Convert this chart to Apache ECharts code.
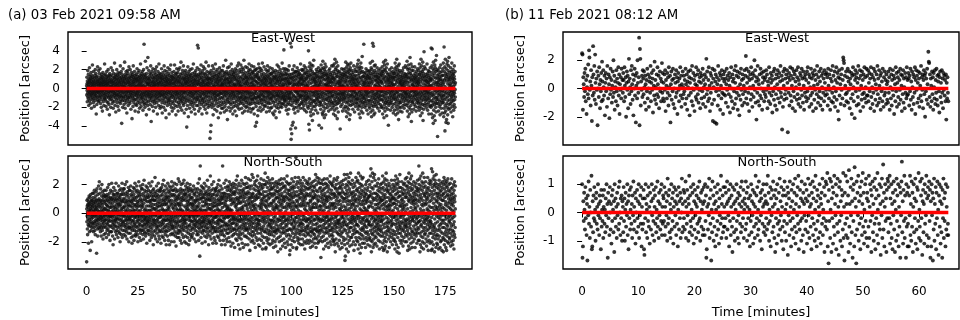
<!DOCTYPE html>
<html>
<head>
<meta charset="utf-8">
<script src="https://cdn.jsdelivr.net/npm/echarts@6/dist/echarts.min.js"></script>
<style>
html,body{margin:0;padding:0;background:#fff}
#chart{width:960px;height:320px}
</style>
</head>
<body>
<div id="chart"></div>
<script>
// Guiding offsets, in units of 0.1 arcsec, one value per sample at a fixed cadence.
// Session (a): 03 Feb 2021, 180 minutes.
const ewA = [
3,-7,12,5,-2,-14,8,1,-5,19,-9,0,6,-11,15,4,-3,-18,10,2,-6,7,-1,22,-13,9,-4,-8,13,6,-16,3,11,-2,-10,17,1,-6,8,-21,5,14,-3,-7,10,-12,2,25,-5,6,
-9,12,-1,4,-15,8,18,-4,-11,3,7,-2,-19,11,-6,1,14,-8,5,-13,20,-3,9,-7,-1,16,-10,6,-27,4,12,-5,2,-17,8,-3,13,-9,0,23,-12,7,-4,10,-2,-14,5,19,-8,3,
-5,9,-13,4,16,-2,7,-10,1,21,-7,11,-4,-16,6,-1,13,-9,3,-20,10,5,-3,15,-12,8,-6,2,-24,12,-2,6,17,-8,-1,9,-14,4,11,-5,-18,7,2,-10,14,-3,26,-11,5,-7,
8,-1,-12,15,3,-6,10,-19,6,-2,12,-9,1,18,-14,4,-4,9,-22,7,13,-1,-8,5,-15,20,-5,3,11,-10,0,-17,14,-3,8,-28,6,-7,16,2,-12,10,-4,-9,13,1,-20,7,-2,22,
4,-11,9,-3,14,-8,2,-16,7,1,-6,19,-13,5,-1,11,-21,8,-4,3,16,-9,6,-2,-14,12,-7,27,-5,10,1,-18,4,-10,13,-3,7,-25,15,-6,2,9,-12,5,-1,20,-8,11,-15,3,
-7,14,-2,6,-19,10,-4,17,-11,1,8,-6,-23,13,3,-9,5,-1,16,-14,7,-3,11,-8,24,-16,2,9,-5,-12,6,18,-2,-9,12,-37,4,-7,15,-1,10,-13,3,-20,8,-4,21,-10,1,6,
-9,13,-4,7,-17,2,11,-1,-13,28,-6,9,3,-21,15,-8,5,-2,12,-11,1,18,-15,6,-4,10,-7,-26,14,-3,8,0,-12,19,-9,4,-1,16,-18,7,-5,11,-10,2,23,-14,6,-3,9,-8,
12,-2,-16,5,20,-10,3,-6,14,-1,-22,8,-4,11,1,-13,17,-7,4,-32,13,-2,6,-9,15,-5,9,-19,2,24,-11,7,-3,12,-15,5,-1,10,-8,18,-12,3,-6,14,-24,8,1,-4,11,-17,
6,-12,2,15,-7,10,-1,-18,9,-4,21,-10,3,-6,13,-15,7,-2,17,-9,4,-25,11,-3,8,-13,1,19,-6,12,-21,5,-1,9,-16,14,-8,2,26,-11,6,-4,10,-19,3,16,-7,13,-2,-10,
7,-14,1,18,-5,11,-9,4,-23,14,-1,8,-12,20,-6,3,-15,47,-17,10,-4,15,-8,1,-20,12,-3,6,29,-11,2,-7,13,-16,9,-1,-28,16,-5,7,-13,22,-2,4,-9,11,-18,5,33,-6,
-3,10,-14,6,-8,19,-1,4,-22,13,-6,9,2,-11,16,-4,7,-17,11,-2,-9,24,-13,5,1,-35,15,-7,3,-10,18,-5,8,-1,-19,12,-3,6,-14,21,-8,2,10,-24,7,-2,14,-12,4,-6,
11,-16,3,17,-9,5,-1,-13,20,-4,8,-20,12,-7,2,15,-10,6,-3,23,-15,9,-1,-6,13,-27,4,10,-11,1,18,-8,5,-2,14,-18,7,-5,26,-13,3,11,-4,-9,16,-1,6,-21,12,-7,
8,-5,15,-12,3,-19,10,-2,6,21,-8,-1,13,-15,4,-26,11,-6,9,-3,17,-11,2,-7,14,-1,-20,7,5,-13,24,-4,10,-9,1,-16,19,-6,3,12,-23,8,-2,15,-10,4,-31,11,-5,7,
-14,2,18,-8,6,-3,13,-18,9,-1,-11,22,-6,4,10,-15,1,16,-12,7,-4,-27,14,-2,5,-9,20,-13,3,11,-5,-17,8,-1,25,-10,6,-7,13,-20,2,9,-3,17,-14,5,-24,12,-8,1,
-6,14,-2,9,-16,5,11,-10,1,-21,18,-4,7,-13,3,25,-8,12,-1,-18,6,-5,15,-11,2,10,-28,8,-3,16,-7,4,-14,21,-2,9,-19,13,-6,1,-10,17,-4,6,-24,11,-1,7,-15,20,
-9,3,13,-5,-17,8,2,-12,22,-7,10,-1,-20,15,-3,5,-11,28,-14,6,-2,12,-8,1,-23,16,-5,9,-13,3,19,-10,4,-1,-16,11,-6,24,-18,7,-3,14,-9,2,-26,10,-4,17,-12,5,
11,-4,-15,8,1,19,-10,5,-2,14,-22,7,-7,12,-41,3,-13,16,-1,9,-18,6,-5,23,-11,2,10,-30,13,-3,7,-8,18,-14,4,-1,11,-21,15,-6,3,-12,20,-4,8,-17,1,14,-9,6,
-2,-25,12,-5,9,-15,4,21,-8,1,-13,16,-3,7,-19,11,-6,2,26,-10,5,-1,-16,13,-7,9,-22,3,17,-11,6,-4,14,-27,8,-2,10,-14,19,-5,1,-9,15,-18,4,-3,12,-12,7,22,
-10,5,46,-7,13,-2,-18,9,43,-12,4,-24,15,-5,8,-1,20,-15,6,-9,11,-3,-21,14,2,-8,17,-13,5,-1,25,-6,10,-17,3,12,-10,1,-27,16,-4,7,-12,19,-2,6,-15,9,-6,23,
-11,4,13,-19,2,8,-5,16,-14,1,-8,21,-3,11,-22,6,-1,15,-10,4,-17,28,-6,9,-2,-13,12,-26,3,18,-8,5,-4,10,-16,14,-1,7,-20,2,11,-9,24,-5,6,-12,17,-3,-18,9,
3,-14,11,-53,-2,16,-8,5,-46,10,-5,-39,19,-11,1,-17,8,-3,14,-20,6,-1,12,-9,24,-15,2,-6,17,-28,9,-2,4,-12,21,-5,11,-18,1,13,-7,3,-22,15,-4,7,-10,26,-1,-13,
6,-9,18,-3,10,-16,2,14,-6,-24,9,-1,20,-12,4,-7,12,-19,7,-2,15,-31,5,11,-8,1,-15,17,-4,8,-11,22,-6,2,-18,13,-1,9,-26,16,-5,3,-10,19,-3,6,-14,10,-21,4,
-5,12,-17,3,19,-9,6,-1,-21,14,4,-11,24,-6,1,-15,9,-3,17,-25,8,-2,13,-8,5,-19,16,-4,10,-13,2,30,-7,6,-16,11,-1,-23,18,-5,3,-10,15,-2,9,-33,22,-12,1,7,
10,-4,-14,16,-7,5,-20,12,-1,23,-10,6,-15,2,14,-5,8,-24,18,-8,3,-2,11,-17,7,-12,26,-1,15,-6,-21,10,1,-9,20,-4,5,-15,13,-27,8,-3,17,-11,2,-6,15,-19,4,12,
-8,18,-3,10,-15,5,-24,1,13,-9,21,-6,3,-18,9,-1,16,-12,4,-29,11,-2,19,-14,7,-4,24,-9,1,-20,14,-7,9,-2,-17,6,27,-11,4,-5,12,-22,17,-3,8,-13,2,20,-10,5,
3,-16,11,-5,25,-9,1,-14,18,-3,7,-21,13,-8,2,-11,22,-1,-26,10,-6,16,-16,4,-1,20,-12,9,-4,30,-18,6,-9,14,-2,-24,11,1,-13,17,-7,5,-10,23,-4,12,-20,3,-15,8,
-10,14,-3,7,-19,11,-1,22,-13,5,-6,17,-24,9,-2,12,-16,3,-9,19,-5,26,-11,1,15,-21,6,-4,10,-17,20,-8,2,-14,13,-1,-25,16,-7,5,-11,24,-4,11,-16,2,8,-22,18,-12,
6,-11,17,-5,11,-21,3,-8,15,-1,23,-14,9,-27,4,-6,19,-10,1,-16,13,-3,-40,8,-10,20,-2,12,-19,7,-5,15,-36,3,-12,21,-1,-15,6,-9,14,-29,17,-7,12,-23,1,10,-9,26,
5,-16,10,-4,22,-9,1,-13,18,-2,7,-20,12,-7,3,-11,21,-1,-24,9,-6,15,-15,4,-1,19,-12,8,-4,27,-17,6,-8,13,-2,-22,10,1,-12,16,-6,5,-9,23,-3,11,-19,3,-14,8,
-9,13,-2,6,-18,10,-1,20,-12,4,-5,15,-25,8,-2,11,-15,3,-8,18,-4,24,-10,1,13,-20,6,-3,9,-16,19,-7,1,-13,12,-1,-24,15,-6,5,-10,22,-4,10,-16,2,7,-21,16,-11,
6,-10,16,-4,10,-20,3,-7,14,-1,21,-13,8,-26,4,-6,18,-9,1,-15,12,-2,-28,9,-8,17,-1,11,-18,6,-4,13,-24,2,-11,19,-1,-14,5,-8,12,-31,15,-5,10,-20,1,8,-7,25,
-12,8,-3,18,-17,5,-8,13,-1,-21,10,-6,23,-10,2,-15,16,-3,7,-25,12,-8,4,-13,20,-1,9,-19,14,-5,1,-10,17,-16,6,-2,12,-20,9,-7,27,-11,3,-4,15,-16,10,-9,4,21,
2,-8,14,-17,41,-5,9,-13,6,-11,18,-1,-12,11,-7,21,-14,4,-9,15,-19,8,-3,11,-23,16,-5,1,-12,20,-8,5,-17,10,-2,14,-27,7,-10,2,19,-15,8,-6,-22,12,-4,24,-10,5,
-7,15,-11,5,-17,10,-2,48,-13,6,-43,12,-4,-54,-9,44,15,-5,-48,11,-18,2,-39,8,-11,20,-1,-15,5,-36,16,-7,12,-22,2,9,-8,24,-13,4,-20,13,-3,17,-26,6,-10,18,-1,-42,
-13,9,-3,18,-16,4,-9,14,-2,-20,11,-5,22,-12,3,-14,17,-4,6,-24,13,-7,5,-12,19,-2,8,-18,15,-6,2,-9,16,-17,7,-1,11,-21,10,-8,26,-10,4,-3,14,-15,11,-8,5,20,
11,-6,-16,9,-2,19,-12,5,-21,14,-1,8,-14,20,-8,3,-18,12,-4,24,-10,7,-3,16,-23,9,-7,1,17,-13,4,-11,22,-1,-16,11,-5,10,-25,15,-8,3,-12,19,-3,6,-19,13,-9,1,
3,-10,17,-21,40,-6,12,-38,8,-15,23,-2,-44,14,-9,27,-18,5,-12,19,-25,10,-4,15,-29,21,-7,1,-16,25,-11,6,-22,13,-3,18,-34,9,-14,2,24,-19,11,-8,-27,16,-5,30,-13,7,
-4,9,-13,2,15,-7,10,-19,4,-1,12,-15,7,-23,16,-3,5,-9,20,-11,1,-17,13,-6,8,-2,18,-12,3,-26,11,-5,14,-8,1,22,-14,6,-10,3,-39,17,-2,9,-18,12,-6,4,-15,19,
-9,19,-14,6,-22,12,-3,25,-17,8,-42,15,-6,21,-11,2,-26,17,-8,11,-28,29,-4,13,-19,5,-13,22,-1,-24,16,-10,9,-31,20,-5,14,-16,3,26,-21,10,-7,18,-28,4,-12,23,-2,15,
5,-11,14,-2,8,-17,3,12,-6,-20,10,1,-9,16,-13,4,-4,11,-24,7,19,-1,-10,6,-15,13,-3,21,-8,2,-18,9,-5,15,-12,1,7,-22,17,-4,10,-14,3,24,-9,6,-1,-16,12,-7,
14,-8,-20,11,-3,24,-15,7,-27,18,-1,10,-18,26,-11,4,-23,16,-6,31,-13,9,-4,20,-29,12,-9,2,22,-17,6,-14,28,-2,-21,15,-7,13,-32,19,-10,5,-16,24,-5,8,-25,17,-12,1,
-6,12,-1,7,-15,3,18,-10,5,-2,-13,9,-43,14,-7,2,11,-19,6,-4,16,-9,1,-12,21,-5,8,-17,3,13,-1,-24,10,-6,15,-11,4,20,-14,2,-8,12,-3,-21,17,-6,7,-10,1,14,
-4,21,-12,9,-19,15,-1,28,-24,6,-9,18,-15,11,-30,3,23,-7,13,-20,8,-3,26,-14,17,-26,4,-11,20,-6,12,-22,1,-17,25,-9,16,-33,7,-2,19,-13,10,-28,22,-8,14,-18,5,27,
8,-3,-14,12,-7,3,19,-11,1,-6,15,-17,9,-2,11,-22,5,-9,17,-1,7,-13,24,-4,10,-16,2,13,-8,-25,6,-3,20,-10,4,-1,14,-19,9,-5,18,-12,1,-15,11,-7,3,23,-11,6,
9,-16,18,-5,26,-11,3,-22,14,-8,30,-19,7,-2,21,-13,11,-27,16,-4,5,-18,23,-10,1,-31,19,-7,12,-15,27,-3,8,-24,17,-12,-6,22,-20,10,-1,34,-14,4,-9,18,-26,13,-17,6,
-7,13,2,-10,47,-4,8,-15,16,-1,-11,6,-20,12,3,-8,17,-14,5,-3,10,-18,21,-6,1,-12,14,-2,8,-23,11,-5,19,-9,2,-16,13,-1,6,-27,15,-7,4,-13,18,-4,10,-19,1,12,
-13,6,19,-21,11,-4,27,-16,2,-9,16,-25,8,-1,22,-12,14,-30,5,-7,20,-18,10,-3,29,-14,48,-23,7,-10,17,-5,45,-19,12,-2,-28,15,-8,24,-15,3,-11,19,-26,9,-6,25,-17,13,
4,-12,9,-1,17,-8,2,-19,13,-5,7,-14,22,-3,10,-10,1,15,-21,6,-6,12,-2,-16,19,-9,3,11,-13,5,-24,8,-1,16,-11,2,-7,21,-17,9,-4,13,-8,1,-20,15,-3,7,-12,18,
7,-19,14,-3,23,-12,5,-27,18,-8,11,-1,-21,16,-14,28,-6,10,-31,20,-9,2,-17,25,-4,13,-24,8,-11,19,-2,30,-15,6,-20,12,-7,22,-13,3,-29,17,-5,9,-16,26,-10,1,-22,15,
-3,10,-14,6,-39,12,-1,8,-18,4,15,-9,2,-12,20,-5,9,-16,1,13,-7,-23,11,-2,6,-15,17,-4,3,-10,22,-13,7,-1,14,-20,5,-8,11,-3,18,-17,2,9,-26,12,-6,4,-11,16,
-10,16,-2,-23,12,-7,21,-16,4,27,-12,9,-5,18,-28,13,-1,-19,23,-9,6,-14,31,-4,15,-22,8,-11,20,-3,-26,11,2,-17,24,-8,14,-33,17,-6,10,-13,26,-20,5,-1,19,-15,7,-24,
6,-9,13,-2,-15,8,3,-20,11,-6,17,-1,9,-12,4,-25,14,-7,2,19,-10,5,-3,12,-18,7,-1,22,-14,3,10,-8,-21,16,-4,6,-11,1,13,-17,8,-5,24,-2,-9,15,-13,4,-6,11,
13,-5,22,-18,8,-11,29,-2,-24,15,-8,6,-16,20,-1,-30,11,-13,25,-6,3,-20,17,-9,12,-27,21,-4,7,-14,33,-10,1,-22,16,-7,10,-18,26,-3,14,-35,9,-12,19,-25,4,-2,23,-15,
-8,4,12,-14,7,-1,19,-10,3,-22,9,-5,14,-3,-17,11,1,-8,23,-12,6,-4,16,-19,2,10,-7,-1,13,-24,8,-2,18,-11,5,-15,12,-6,1,21,-9,7,-13,3,-20,15,-4,9,-16,6,
-6,19,-14,10,-23,4,26,-11,15,-1,-19,22,-8,12,-29,7,-4,17,-16,31,-10,2,-21,14,-6,24,-13,9,-26,18,-3,11,-17,28,-8,5,-34,20,-12,1,16,-22,13,-5,39,-18,8,-10,23,-2,
12,-7,3,-16,9,-2,21,-13,5,-9,15,-1,-20,8,-5,13,-12,2,26,-17,10,-4,7,-23,16,-8,1,-11,19,-3,6,-15,12,-27,4,-6,18,-10,2,14,-19,9,-1,-13,22,-5,8,-18,3,11,
10,-20,43,-8,17,-27,3,-13,24,-4,42,-18,9,-31,14,-7,21,-15,5,-37,28,-11,1,-23,19,-6,12,-29,16,-2,-17,25,-9,7,-34,22,-14,4,30,-20,11,-3,-25,18,-10,35,-16,6,-12,20,
-5,14,-9,2,-51,11,-16,6,-2,19,-12,8,-24,4,15,-7,1,-19,12,-3,22,-14,9,-6,-28,17,-1,10,-17,5,25,-10,3,-21,13,-8,1,-13,18,-4,7,-26,14,-2,9,-15,21,-11,4,-7,
-15,27,-8,14,-30,6,-21,44,-3,18,-26,9,-12,23,-45,2,-18,31,-6,11,-24,16,-10,-36,21,-4,13,-33,8,-16,26,-1,-20,15,-9,29,-28,5,-13,19,-37,10,-5,24,-22,12,-7,33,-17,3,
8,-12,17,-3,10,-21,5,-1,14,-16,22,-7,3,-25,12,-9,18,-4,1,-14,27,-11,6,-19,9,-2,15,-30,11,-6,20,-13,2,-8,16,-23,7,-3,13,-17,24,-5,10,-12,4,-20,18,-1,-9,6
];
const nsA = [
-34,3,-6,9,-2,5,-11,1,-15,6,-4,10,-8,0,4,-21,8,-1,-9,6,12,-5,2,-13,7,-7,1,11,-3,-26,5,-9,3,13,-6,-1,8,-12,2,9,-4,-20,6,-10,4,-2,9,-7,14,-1,
5,-8,11,-3,7,-13,1,14,-6,2,-10,8,-1,16,-7,4,-12,6,-2,10,-15,2,8,-5,12,-9,3,-2,15,-6,5,-28,9,-4,17,-1,-8,4,-11,7,-16,2,13,-5,1,9,-3,19,-10,6,
-4,10,-7,22,1,-11,5,-2,14,-9,8,-1,-13,4,17,-5,9,-3,-16,7,2,-10,12,-4,20,-8,1,-12,6,-2,15,-6,9,-18,4,-3,11,-10,2,13,-7,-15,8,-1,16,-5,3,-9,12,-2,
7,-5,12,-1,-14,9,3,-10,16,-4,6,-17,11,-7,2,13,-12,5,-2,9,-8,18,-1,5,-11,12,-5,2,-15,8,-6,20,-3,10,-9,1,14,-13,4,-2,-19,7,-5,11,-9,16,-2,4,-13,9,
-2,10,-13,5,21,-6,1,-10,15,-3,7,-16,11,-8,2,-22,13,-5,9,-1,18,-11,4,-7,13,-2,5,-18,10,-9,1,16,-5,8,-13,3,-4,12,-9,21,-6,1,-15,10,-3,6,-12,14,-1,4,
9,-4,14,-10,2,-17,7,-1,12,-7,19,-4,-13,6,10,-9,1,16,-14,5,-2,11,-20,8,-5,13,-1,-11,6,17,-8,3,-15,9,-4,13,-9,2,21,-6,-17,8,-2,15,-12,4,-7,10,-1,17,
-6,13,-2,8,-15,4,17,-9,5,-1,-12,10,-5,20,-8,2,-16,14,-3,7,-10,1,12,-13,8,-5,22,-2,-18,5,9,-7,15,-11,3,-4,13,-9,1,18,-14,6,-2,-20,11,-5,8,-10,16,-3,
5,-10,16,-4,9,-14,2,-7,19,-11,5,-2,13,-17,8,-5,1,12,-9,-21,7,-2,15,-12,4,10,-6,-16,9,-1,18,-10,2,-5,13,-19,6,-8,17,-3,11,-12,2,21,-7,5,-15,9,-2,-16,
-9,15,-3,6,-13,11,-1,19,-10,4,-6,16,-15,2,8,-5,12,-20,7,-2,14,-9,5,-12,22,-4,9,-7,1,-17,12,-2,15,-11,5,-8,19,-14,2,10,-5,-19,13,-1,8,-12,17,-3,6,-9,
4,-12,17,-6,9,-2,20,-15,5,-9,12,-1,-18,14,-5,7,-11,23,-8,2,-13,10,-4,16,-3,-14,3,-7,12,-2,-16,9,-5,19,-10,1,15,-8,5,-21,11,-3,8,-14,18,-6,2,-12,13,-5,
-7,11,-2,16,-12,5,-9,21,-4,8,-15,12,-6,2,-19,9,-1,15,-10,5,-3,19,-13,7,-8,2,14,-17,9,-5,12,-11,22,-2,4,-15,10,-7,16,-1,-9,6,-22,12,-4,17,-13,3,-6,9,
9,-5,14,-16,3,-8,25,-2,12,-12,6,-1,-18,15,-7,9,-10,2,19,-5,11,-14,4,-9,13,-2,-20,7,-4,16,-11,5,-6,21,-9,1,12,-16,8,-3,10,-13,5,-18,15,-7,2,-12,17,-2,
-3,16,-9,7,-21,12,-1,5,-13,18,-6,9,-2,-16,13,-8,3,20,-11,6,-5,15,-17,2,10,-7,23,-4,8,-13,1,16,-10,6,-2,-19,12,-5,9,-15,19,-9,2,-5,14,-12,7,-22,11,-1,
6,-13,10,-3,17,-8,2,-16,12,-5,21,-10,4,-1,15,-19,8,-4,11,-12,3,19,-7,9,-22,5,-2,14,-9,16,-5,1,-15,12,-6,18,-11,7,-3,-20,9,-8,22,-1,6,-14,13,-4,-10,16,
-9,4,19,-6,12,-15,3,-2,16,-11,8,-20,13,-5,1,21,-9,6,-13,10,-3,17,-16,5,-7,12,-1,-23,9,-6,15,-10,3,20,-14,7,-2,11,-17,2,-8,16,-4,10,-12,24,-6,6,-14,12,
7,-17,13,-2,22,-9,5,-12,2,15,-6,10,-19,3,-1,17,-13,8,-5,20,-10,6,-21,11,-2,14,-8,2,-15,16,-4,9,-11,21,-6,1,-17,12,-3,10,-9,23,-12,5,-7,16,-1,-20,13,-5,
-5,14,-2,9,-16,19,-10,4,-7,13,-21,2,11,-4,17,-13,6,-1,21,-9,8,-17,3,15,-11,5,-2,18,-14,9,-22,12,-5,2,16,-9,7,-3,-19,13,-8,20,-2,10,-15,6,-12,17,-5,1,
11,-6,-17,7,-1,15,-10,4,-16,11,-1,6,-11,16,-6,2,-14,9,-3,19,-8,5,-2,13,-18,7,-5,1,14,-10,3,-8,17,-1,-12,9,-4,8,-20,12,-6,2,-9,15,-2,5,-15,10,-7,1,
4,-13,17,-6,9,-2,21,-15,5,-10,12,-1,-19,14,-5,7,-11,24,-8,2,-30,10,-4,16,33,-13,3,-7,13,-2,-17,10,-6,19,-10,1,15,-9,5,-21,11,-3,8,-14,18,-6,2,-12,13,-5,
-7,11,-2,17,-12,5,-9,21,-4,8,-16,13,-6,2,-20,10,-1,15,-10,6,-3,19,-13,7,-8,2,14,-17,9,-5,12,-11,23,-2,4,-15,10,-7,16,-1,-10,6,-22,13,-4,18,-13,3,-6,10,
9,-6,14,-16,3,-8,26,-2,12,-12,6,-1,-18,16,-7,9,-10,2,20,-5,11,-14,4,-9,13,-2,-21,7,-4,17,-11,5,-6,22,-10,1,13,-17,8,-3,10,-13,5,-19,15,-7,2,-12,17,-2,
-3,16,-10,7,-21,12,-1,5,-13,18,-6,9,-2,-16,13,-8,3,20,-11,6,-5,15,-17,2,10,-7,23,-4,8,-13,1,16,-10,6,-2,-19,12,-5,9,-15,19,-9,2,-5,14,-12,7,-22,11,-1,
10,-6,17,-13,4,-9,33,-1,12,-15,7,-3,-19,14,-6,10,-11,1,21,-4,12,-16,5,-8,14,-1,-22,8,-3,18,-12,6,-7,23,-9,2,11,-18,9,-2,13,-14,4,-20,16,-8,3,-11,19,-3,
5,-14,11,-2,18,-9,1,-17,13,-6,22,-11,3,-2,16,-20,9,-5,12,-13,2,20,-8,10,-23,6,-1,15,-10,17,-4,2,-16,13,-7,19,-12,8,-2,-21,10,-7,21,-3,7,-15,14,-5,-11,15,
-4,18,-11,8,-24,13,-1,5,-14,20,-7,10,-3,-18,15,-9,4,23,-12,6,-5,17,-19,2,11,-8,26,-4,9,-15,1,19,-11,7,-2,-22,14,-6,10,-17,21,-10,3,-5,16,-13,8,-25,12,-1,
7,-15,11,-4,19,-9,2,-18,14,-6,23,-11,4,-1,16,-21,8,-4,12,-14,3,21,-8,10,-24,5,-2,15,-10,17,-5,1,-16,13,-7,20,-12,8,-3,-22,11,-9,25,-1,6,-16,14,-4,-11,18,
-11,5,21,-7,13,-17,3,-2,18,-12,9,-22,15,-5,1,24,-10,7,-14,11,-4,19,-18,6,-8,14,-1,-26,10,-6,17,-11,4,23,-15,8,-3,12,-20,2,-9,19,-5,11,-13,27,-7,6,-16,13,
8,-19,14,-3,25,-10,5,-13,2,17,-7,11,-21,4,-1,20,-15,9,-5,22,-11,6,-24,12,-2,16,-9,3,-17,19,-4,10,-12,23,-7,1,-19,13,-4,11,-10,26,-14,5,-8,18,-1,-22,15,-5,
-6,16,-2,11,-18,21,-11,5,-8,14,-23,3,13,-5,19,-14,7,-1,24,-10,9,-19,4,17,-12,6,-3,20,-16,10,-25,13,-6,2,18,-11,8,-4,-21,15,-9,23,-2,11,-17,6,-13,20,-5,1,
12,-7,28,-13,5,20,-25,9,-3,-24,15,-11,4,22,-17,8,-1,-19,12,-6,18,-14,2,25,-9,6,-21,13,-4,10,-12,21,-2,-18,16,-8,5,-15,23,-7,11,-22,1,14,-13,19,-5,7,-10,17,
-9,13,-5,21,-15,7,-1,-21,17,-11,5,24,-7,12,-19,3,-13,18,-5,9,-24,14,-3,8,-16,21,-10,2,-13,19,-6,13,-20,4,-2,16,-12,10,-23,6,-8,22,-14,4,11,-18,15,-4,-11,20,
5,-12,18,-6,11,-27,3,15,-9,21,-17,8,-4,13,-11,1,23,-20,10,-5,16,-13,5,-2,20,-16,7,-25,12,-8,2,17,-10,24,-5,9,-19,14,-3,6,-14,21,-7,12,-23,4,-11,18,-1,10,
-13,8,-3,19,-18,11,-6,24,-10,4,-21,15,-2,9,-14,19,-5,1,-24,12,-8,17,-12,5,22,-4,-16,11,-9,3,26,-20,7,-5,14,-12,21,-1,-22,10,-7,16,-15,5,-3,20,-11,13,-18,6,
9,-29,16,-5,-26,12,-11,4,21,-16,7,-2,18,-22,10,-7,14,-12,2,24,-8,12,-19,5,-4,17,-14,8,-24,19,-1,11,-10,22,-6,3,-17,15,-11,7,-20,18,-5,13,-9,1,25,-15,5,-3,
12,-7,39,-13,5,20,-25,9,-3,-24,15,-11,4,22,-17,8,-1,-19,12,-6,18,-14,2,25,-9,6,-21,13,-4,10,-12,21,-2,-18,16,-8,5,-15,23,-7,11,-22,1,14,-13,19,-5,7,-10,17,
-7,15,-12,5,21,-18,9,-2,-22,13,-8,25,-4,11,-15,6,-1,19,-12,8,-20,16,-5,3,-25,12,-10,23,-3,10,-16,5,18,-13,2,-21,14,-6,12,-11,21,-5,7,-19,17,-9,1,-14,22,-4,
-9,13,-4,20,-15,7,-1,-21,17,-11,5,24,-7,12,-19,3,-13,18,-5,9,-24,14,-3,8,-16,21,-10,2,-13,19,-6,12,-20,4,-2,16,-12,10,-23,6,-8,22,-14,4,11,-18,15,-4,-11,19,
11,-5,18,-15,7,-21,13,-1,23,-11,4,-17,27,-8,12,-4,-24,16,-12,6,20,-2,-18,10,-7,25,-13,4,-10,15,-21,8,-3,22,-16,12,-5,-20,9,-12,2,24,-9,17,-4,-14,21,-1,5,-19,
5,-12,18,-6,11,-31,3,15,-9,21,-17,8,-4,13,-11,1,23,-20,10,-5,16,-13,5,-2,20,-16,7,-25,12,-8,2,17,-10,24,-5,9,-19,14,-3,6,-14,21,-7,12,-23,4,-11,18,-1,10,
-13,8,-3,20,-18,11,-6,24,-10,4,-21,15,-2,9,-14,19,-5,1,-24,12,-8,17,-12,5,22,-4,-16,11,-9,3,26,-20,7,-5,14,-12,21,-1,-22,10,-7,16,-15,5,-3,20,-11,13,-18,6,
-10,19,-16,7,-4,22,-13,3,-20,14,-1,11,-19,24,-8,5,-22,13,-6,18,-11,7,-27,12,-3,17,-9,4,-18,20,-2,9,-13,23,-7,1,-21,15,-5,11,-10,25,-14,6,-7,17,-1,-23,13,-5,
8,-15,21,-6,14,-19,3,-8,18,-12,9,-25,14,-4,2,19,-10,6,-16,12,-2,22,-14,4,-21,17,-7,1,-24,11,-9,15,-3,20,-13,8,-1,-17,23,-6,10,-19,5,-11,14,-4,27,-8,2,-22,
10,-33,18,-6,-30,13,-12,4,24,-18,8,-2,20,-25,11,-8,16,-14,2,27,-9,14,-21,6,-4,19,-16,9,-27,22,-1,12,-11,25,-7,3,-19,17,-13,8,-23,21,-5,15,-10,1,28,-17,6,-3,
-6,13,-10,4,20,-17,9,-1,-22,14,-7,23,-4,11,-15,6,-2,18,-12,7,-20,15,-5,2,-26,12,-9,21,-3,9,-14,5,19,-11,3,-22,13,-6,10,-17,25,-4,8,-13,16,-8,1,-19,22,-2,
-8,17,-13,5,23,-20,10,-2,-25,15,-9,28,-4,12,-17,7,-1,21,-14,9,-22,18,-6,3,-28,14,-11,26,-3,11,-18,6,20,-15,2,-24,16,-7,13,-12,24,-5,8,-21,19,-10,1,-16,25,-4,
6,-11,15,-3,9,-18,4,12,-8,-21,11,1,-13,17,-6,3,-9,14,-24,7,20,-2,-14,9,-17,13,-5,22,-10,2,-19,8,-4,16,-13,1,10,-22,18,-6,11,-15,4,23,-8,5,-2,-18,12,-8,
12,-6,20,-17,8,-23,15,-1,26,-12,5,-19,31,-9,13,-4,-27,18,-14,7,22,-2,-20,11,-8,28,-15,4,-11,17,-24,9,-3,25,-18,14,-6,-22,10,-13,2,27,-10,19,-5,-16,23,-1,6,-21,
-4,14,-9,3,-17,11,1,-12,19,-7,9,-23,13,-2,6,-14,21,-5,-10,16,-8,4,-19,12,-3,24,-11,7,-15,18,-1,-25,10,-6,15,-12,3,-20,8,-9,20,-4,11,-16,5,-2,17,-13,9,-6,
-11,21,-5,14,-24,9,-2,26,-16,6,-21,18,-8,12,-26,3,-14,22,-4,10,-19,16,-10,7,-25,24,-1,13,-17,5,-23,20,-7,11,-13,2,28,-20,8,-3,17,-15,23,-9,4,-27,15,-6,19,-12,
5,-10,16,-4,11,-18,2,-7,21,-13,6,-24,14,-1,9,-16,3,19,-11,5,-6,13,-20,8,-2,17,-14,10,-9,23,-5,1,-17,12,-8,6,-22,15,-3,10,-12,20,-7,2,-15,11,-1,18,-19,7,
7,-18,16,-3,23,-13,10,-25,4,19,-8,-20,13,-1,26,-15,9,-5,21,-22,6,-10,17,-2,-27,14,-7,24,-12,3,-17,20,-4,11,-24,8,15,-14,1,22,-9,-28,12,-6,18,-11,5,27,-19,-2,
-8,12,-14,5,-3,18,-10,7,-21,15,-1,9,-16,22,-6,2,-12,10,-19,4,17,-7,13,-23,6,-2,14,-11,20,-4,8,-17,3,-9,21,-13,5,-1,16,-20,11,-6,24,-8,1,-15,12,-5,19,-10,
-9,14,-20,6,25,-4,11,-16,19,-12,3,-26,17,-7,22,-1,-14,9,-23,15,-5,28,-18,8,-10,13,-3,21,-25,10,-8,1,18,-15,24,-6,12,-21,4,-11,16,-2,26,-17,7,-13,20,-24,9,-4,
11,-5,17,-13,2,-20,8,-3,14,-9,22,-15,6,-1,12,-18,9,-6,19,-11,4,-24,15,-2,10,-14,3,21,-8,7,-16,13,-4,18,-12,1,-21,16,-7,9,-3,23,-14,5,-10,17,-1,-19,12,-6,
15,-11,33,-6,20,-19,8,-2,24,-14,10,-27,17,-5,3,-22,13,-9,26,-16,1,19,-8,11,-24,6,-13,22,-3,16,-20,9,-1,28,-17,5,-10,21,-6,14,-25,2,18,-12,7,-21,25,-4,12,-15,
-7,13,-2,19,-14,6,-10,22,-5,9,-18,15,-1,11,-23,7,-4,17,-12,3,-20,14,-8,25,-3,10,-16,2,-26,18,-6,12,-11,21,-2,5,-19,16,-9,8,-14,23,-5,1,-21,13,-7,20,-10,4,
-6,22,-14,9,-26,31,-3,15,-20,11,-25,18,-8,29,-12,4,-17,24,-1,13,-22,7,-10,20,-15,2,26,-9,16,-27,10,-4,19,-13,23,-18,5,-7,21,-11,14,-24,3,27,-16,8,-2,18,-21,12,
9,-15,4,-22,14,-6,20,-12,2,-18,11,-3,17,-25,7,-9,23,-1,13,-16,5,-11,19,-4,-24,15,-8,10,-20,3,21,-13,6,-2,16,-19,12,-7,1,-26,18,-5,9,-14,22,-10,4,-17,13,-1,
9,-27,20,-5,14,-18,25,-10,3,-22,17,-7,11,-15,23,-2,-19,6,21,-13,8,-24,15,-4,19,-11,2,-26,12,-8,22,-16,5,18,-1,-20,13,-9,24,-14,7,-3,16,-21,10,-12,20,-6,4,-17,
-5,12,-18,8,-2,15,-11,21,-7,3,-23,10,-14,17,-1,6,-20,13,-9,24,-4,9,-16,2,18,-12,7,-22,11,-3,14,-19,5,-8,20,-13,1,-25,16,-6,10,-15,22,-2,8,-17,12,-10,3,19
];
// Session (b): 11 Feb 2021, 65.2 minutes.
const ewB = [
25,24,-15,8,3,-6,11,-2,14,-9,6,-18,1,9,-4,17,-7,27,22,-1,5,-12,13,2,-23,8,-5,30,10,-3,16,-8,24,4,-11,7,-1,12,-26,0,9,-6,15,3,-14,6,-2,11,-9,19,
5,-8,13,1,-5,9,-19,4,11,-2,7,-13,16,0,-7,10,3,-21,8,-4,14,-1,6,-10,2,12,-6,20,-3,9,-15,5,1,-9,13,-2,7,-12,4,15,-5,10,-18,3,-1,8,-7,14,0,6,
-3,11,6,-9,15,2,-6,8,-20,4,12,-1,9,-14,5,21,-4,7,1,-11,13,-2,16,3,-8,10,-19,6,0,14,-5,9,-24,2,11,-7,20,4,-3,8,36,-26,28,21,-12,5,-1,9,-6,13,
7,-4,12,1,-10,9,3,-15,6,-2,14,-7,10,0,-13,5,8,-3,16,-9,4,11,-1,7,-17,13,2,-5,19,-8,6,1,-11,10,-4,15,3,-6,9,-14,0,12,-2,7,-9,5,18,-3,11,-7,
4,-9,10,-1,13,-16,6,2,-7,11,-3,8,-12,15,1,-5,9,-24,3,12,-8,6,-2,14,-11,7,0,-14,10,4,-6,13,-3,8,-18,5,11,-1,-9,7,2,15,-5,9,-13,3,-7,12,1,-4,
9,-2,6,-11,14,3,-7,10,-15,5,1,12,-5,8,-19,4,13,-3,7,-9,16,0,-12,11,-1,6,-16,9,3,-6,15,-8,2,10,-4,13,-10,5,-1,8,-14,11,4,-7,9,-2,14,-11,6,1,
-6,10,3,-13,8,21,-4,12,-1,-9,6,15,-7,2,-16,11,-3,9,4,-11,14,-23,7,1,-8,13,-24,5,10,-2,-25,8,3,-12,16,-5,6,-1,11,-15,9,2,-7,13,-3,7,-18,10,-4,5,
12,-5,7,-10,3,14,-1,9,-13,6,-4,11,2,-17,8,-6,15,0,-9,10,5,-14,7,-2,13,-11,4,16,-7,9,-3,12,-15,1,8,-5,-19,11,3,-8,14,-1,6,-12,10,-4,7,2,-10,13,
-2,9,23,-7,14,4,-11,8,-3,12,-16,6,1,10,-8,15,-4,7,-13,11,2,-6,9,20,-1,13,-10,5,-22,8,-3,16,-9,6,3,-12,10,-5,14,0,-7,11,-15,4,8,-2,12,-9,6,-4,
8,-6,13,-1,10,-14,5,2,-9,15,-3,7,-11,11,4,-5,9,-17,6,-2,12,-8,14,1,-12,7,-4,10,-15,3,13,-7,8,-1,11,-10,5,16,-3,-6,9,-29,6,-13,12,2,-8,14,-4,7,
-1,10,-7,13,4,-31,8,-3,11,-12,6,15,-5,9,-9,2,14,-14,7,-2,12,-6,10,-16,5,1,13,-8,8,-4,15,-11,6,3,-7,11,-13,9,-1,14,-5,7,-10,12,2,-15,8,-3,10,-6,
6,-9,12,-2,15,-7,4,10,-13,8,1,-5,14,-11,7,-3,11,-16,9,2,-8,13,-1,6,-14,10,-4,16,3,-10,8,-6,12,-2,5,-12,14,-7,9,1,-15,11,-3,7,-9,13,4,-5,10,-1,
11,-4,8,-12,14,2,-7,10,-1,-15,7,13,-9,5,-3,16,-10,9,1,-6,12,-13,6,-2,15,-8,4,11,-16,8,-22,13,-5,7,3,-11,10,-1,14,-7,6,22,20,18,-12,9,2,-4,12,-9,
-3,8,14,-10,5,-1,12,-14,7,3,-7,11,-18,9,-4,15,1,-9,10,-21,6,13,-2,8,-12,11,4,-6,16,-11,7,-1,13,-16,9,2,-8,12,-4,6,-13,10,-3,15,-7,8,1,-10,14,-5,
9,-5,13,-9,4,11,-2,7,-14,15,-6,10,1,-11,8,-3,14,-16,6,12,-8,3,-1,10,-12,16,-4,7,-10,13,2,-7,9,-15,11,-2,5,-9,14,0,-13,8,-5,12,-3,6,-11,10,3,-8,
5,-10,12,-3,8,-15,14,1,-7,10,-12,6,-1,13,-5,9,-18,7,3,-9,15,-2,11,-13,4,8,-6,12,-11,6,-1,14,-8,10,2,-16,9,-4,13,-10,7,1,-14,11,-3,8,-7,15,-5,6,
-4,11,7,-12,9,-2,14,-8,5,-15,12,1,-6,10,-11,8,-3,15,-18,6,13,-1,9,-10,4,12,-7,7,-13,11,2,-5,16,-9,8,-1,10,-14,6,13,-4,9,-20,11,-2,7,-8,14,3,-11,
26,19,18,-6,10,-13,7,2,-9,12,-4,8,-15,11,1,-7,13,-11,6,-3,14,-8,9,-12,5,10,-2,-17,8,12,-6,4,-10,13,-3,7,-14,11,-1,9,-5,6,-9,10,-22,4,-7,8,-3,-9
];
const nsB = [
10,-16,-12,4,-3,7,1,-6,9,-2,5,-8,3,-17,6,-1,11,-4,2,-9,8,0,-5,13,-13,-12,4,-7,6,-2,9,-3,1,-10,5,7,-4,2,-6,10,-1,3,-8,6,-2,4,-13,8,-5,1,
-3,6,-9,2,8,-4,1,-7,5,-1,10,-5,3,-16,7,-2,4,-8,9,0,-6,3,-11,6,-3,8,1,-7,4,-14,10,-2,5,-5,2,-9,7,-1,3,-6,9,-4,11,0,-8,5,-2,6,-10,4,
2,-7,9,-3,5,-10,1,7,-5,3,-1,10,-8,4,-13,6,-2,8,-6,1,9,-4,3,-9,6,-1,11,-6,2,-3,7,-11,5,0,-7,8,-2,4,-5,10,-9,3,-1,6,-4,9,-12,2,-6,5,
-4,8,-13,-15,5,-2,10,-7,3,1,-9,6,-3,9,-5,2,-11,7,0,-6,4,10,-1,-8,5,-3,8,-10,2,6,-4,9,-7,1,-2,11,-5,4,-9,7,-1,3,-6,8,-3,10,-8,2,-4,6,
5,-3,9,-8,2,-5,7,-1,4,-10,12,-4,6,-2,8,-7,3,-9,1,10,-6,5,-3,7,-11,2,9,-5,4,-1,8,-8,3,-4,6,-12,1,9,-6,4,-2,7,-9,5,0,12,-7,3,-5,8,
-2,7,-6,4,11,-9,2,-4,8,-1,5,-10,3,13,-7,6,-3,9,-5,1,-8,7,-2,10,-11,4,-6,8,-1,3,-9,6,2,-4,9,-7,5,-3,11,-2,-10,4,7,-5,1,8,-8,3,-6,9,
4,-8,10,-3,6,-16,-13,2,9,-6,3,-1,12,-9,5,-4,8,-17,1,-7,11,-2,6,-10,3,-5,9,-12,4,1,-8,7,-3,10,-6,2,-11,5,-1,8,-4,13,-9,3,-2,6,-7,9,-5,2,
-5,9,-2,7,-9,3,11,-6,4,-1,8,-12,5,-3,10,-8,2,6,-5,-14,9,-2,3,-7,8,-10,4,1,-6,10,-3,5,-9,7,-1,-11,3,6,-4,9,-7,2,11,-5,4,-2,8,-9,1,5,
3,-6,11,-4,7,-10,2,9,-2,5,-8,1,-12,6,-3,10,-7,4,-1,8,-11,3,-5,7,-9,2,13,-4,6,-2,9,-8,1,-6,11,-3,4,-10,7,-1,5,-13,8,-4,2,10,-7,3,-5,6,
-8,4,-2,10,-6,3,13,-4,7,-10,1,-3,9,-12,5,-1,8,-7,2,11,-5,6,-9,3,-14,8,-2,5,-11,10,-4,1,-8,7,-3,12,-6,4,-1,9,-10,2,-5,6,-13,8,-3,11,-7,1,
6,-10,3,-4,9,-15,7,-1,5,-8,11,-3,2,-12,8,-6,4,-2,10,-9,1,7,-5,12,-11,3,-7,6,-1,9,-4,13,-13,2,-6,8,-3,5,-10,11,-2,4,-8,7,-14,3,-1,10,-6,5,
-3,8,-11,4,-7,12,-1,6,-9,2,10,-5,3,-13,7,-2,11,-8,5,-4,9,-10,1,13,-6,4,-12,8,-3,6,-9,2,-1,10,-7,5,-11,3,7,-4,12,-8,1,-2,9,-14,6,-5,11,-3,
10,-6,14,-12,4,-18,8,-3,12,-9,1,11,-14,5,-2,9,-11,7,-5,13,-8,3,-1,10,-13,6,-4,12,-7,2,-15,9,-3,11,-10,4,-1,8,-12,6,-6,14,-9,2,-17,7,-4,13,-8,3,
-2,11,-9,6,-14,15,-5,3,-11,9,-1,12,-7,4,-16,8,-3,10,-12,16,5,-8,2,-18,11,-6,7,-1,13,-10,4,-4,9,-13,6,-2,11,-8,3,14,-5,7,-11,1,-7,10,-3,12,-9,5,
7,-12,4,-5,13,-9,2,10,-3,8,-14,6,-1,11,-7,3,-10,9,-4,12,-13,5,-2,8,-8,14,1,-11,6,-4,10,-6,3,-15,9,-1,12,-9,4,17,-6,7,-12,2,10,-3,5,-14,8,-2,
12,11,-7,9,-2,13,-11,5,-4,10,-9,3,-13,7,-1,11,-6,4,-14,8,1,-10,12,-3,6,-8,10,-12,2,-5,9,-16,7,-1,11,18,-7,4,-11,8,-3,13,-9,6,-2,-16,10,-5,7,-12,
-4,9,-12,6,-1,13,-8,3,-10,11,-5,7,-14,2,10,-7,5,-2,12,-11,4,-6,9,-13,8,-3,14,-9,1,-5,11,-10,6,-2,12,-15,4,8,-7,3,-11,10,-4,7,-1,13,-8,5,-12,9,
6,-9,11,-3,8,-16,4,-12,10,-1,7,-17,5,-6,12,-10,3,-4,9,-13,7,-2,11,-8,1,-15,6,10,-5,4,-11,9,-7,3,-16,8,-2,12,-9,5,-3,7,-12,10,-6,2,-8,9,-4,-8
];

// Session lengths in minutes and axis tick positions.
const spanA = 180;
const spanB = 65.2;
const xTicksA = [0, 25, 50, 75, 100, 125, 150, 175];
const xTicksB = [0, 10, 20, 30, 40, 50, 60];
const yTicksEwA = [-4, -2, 0, 2, 4];
const yTicksNsA = [-2, 0, 2];
const yTicksEwB = [-2, 0, 2];
const yTicksNsB = [-1, 0, 1];
const sessionTitles = ['(a) 03 Feb 2021 09:58 AM', '(b) 11 Feb 2021 08:12 AM'];
const axisLabels = ['East-West', 'North-South'];

const FONT = '"DejaVu Sans", "Liberation Sans", sans-serif';

const toPoints = (vals, span) => vals.map((v, i) => [i * span / (vals.length - 1), v / 10]);

const panels = [
  { vals: ewA, span: spanA, box: { left: 68, top: 32, width: 404, height: 113 }, x: [-9.1, 188.1], y: [-6, 6], xt: xTicksA, yt: yTicksEwA, bottom: false, size: 3.6, color: '#111', label: axisLabels[0], lx: 283 },
  { vals: nsA, span: spanA, box: { left: 68, top: 156, width: 404, height: 114 }, x: [-9.1, 188.1], y: [-3.9, 4.0], xt: xTicksA, yt: yTicksNsA, bottom: true, size: 3.6, color: '#111', label: axisLabels[1], lx: 283 },
  { vals: ewB, span: spanB, box: { left: 563, top: 32, width: 396, height: 113 }, x: [-3.4, 67.1], y: [-4, 4], xt: xTicksB, yt: yTicksEwB, bottom: false, size: 3.9, color: '#000', label: axisLabels[0], lx: 777 },
  { vals: nsB, span: spanB, box: { left: 563, top: 156, width: 396, height: 114 }, x: [-3.4, 67.1], y: [-2, 2], xt: xTicksB, yt: yTicksNsB, bottom: true, size: 3.9, color: '#000', label: axisLabels[1], lx: 777 }
];

const grid = [], xAxis = [], yAxis = [], series = [], graphic = [];

panels.forEach((p, i) => {
  grid.push(Object.assign({ show: true, borderColor: '#000', borderWidth: 1.4, backgroundColor: 'transparent' }, p.box));
  xAxis.push({
    type: 'value', gridIndex: i, min: p.x[0], max: p.x[1],
    axisLine: { show: false }, splitLine: { show: false },
    axisTick: { show: p.bottom, customValues: p.xt, length: 5, lineStyle: { color: '#000', width: 1 } },
    axisLabel: { show: p.bottom, customValues: p.xt, color: '#000', fontSize: 12, fontFamily: FONT, margin: 17 },
    name: p.bottom ? 'Time [minutes]' : '', nameLocation: 'middle', nameGap: 37,
    nameTextStyle: { color: '#000', fontSize: 13, fontFamily: FONT }
  });
  yAxis.push({
    type: 'value', gridIndex: i, min: p.y[0], max: p.y[1],
    axisLine: { show: false }, splitLine: { show: false },
    axisTick: { show: true, customValues: p.yt, length: 5, lineStyle: { color: '#000', width: 1 } },
    axisLabel: { customValues: p.yt, color: '#000', fontSize: 12, fontFamily: FONT, margin: 8 },
    name: 'Position [arcsec]', nameLocation: 'middle', nameGap: 36,
    nameTextStyle: { color: '#000', fontSize: 13, fontFamily: FONT }
  });
  series.push({
    type: 'scatter', xAxisIndex: i, yAxisIndex: i, symbol: 'circle', symbolSize: p.size,
    itemStyle: { color: p.color }, data: toPoints(p.vals, p.span),
    silent: true, z: 2, large: false, progressive: 0
  });
  series.push({
    type: 'line', xAxisIndex: i, yAxisIndex: i, symbol: 'none', silent: true, z: 3,
    lineStyle: { color: '#ff0000', width: 3.5 }, data: [[0, 0], [p.span, 0]]
  });
  graphic.push({
    type: 'text', x: p.lx, y: p.box.top + 6.5, z: 10,
    style: { text: p.label, align: 'center', verticalAlign: 'middle', font: '13px ' + FONT, fill: '#000' }
  });
});

graphic.push({ type: 'text', x: 8, y: 16, style: { text: sessionTitles[0], verticalAlign: 'middle', font: '13.3px ' + FONT, fill: '#000' } });
graphic.push({ type: 'text', x: 505, y: 16, style: { text: sessionTitles[1], verticalAlign: 'middle', font: '13.3px ' + FONT, fill: '#000' } });

const chart = echarts.init(document.getElementById('chart'), null, { renderer: 'canvas' });
chart.setOption({ animation: false, backgroundColor: '#fff', grid, xAxis, yAxis, series, graphic });
</script>
</body>
</html>
